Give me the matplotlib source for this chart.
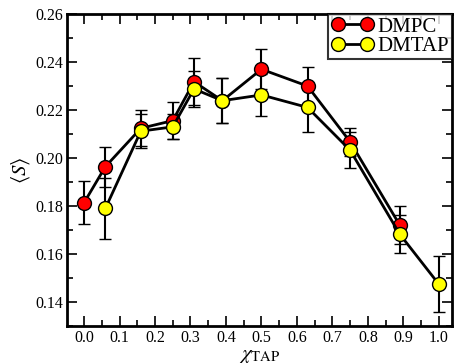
import numpy as np
import matplotlib.pyplot as plt
from matplotlib.lines import Line2D
from matplotlib.ticker import MultipleLocator

# DMPC order parameter vs TAP fraction
x_dmpc = [0.0, 0.06, 0.16, 0.25, 0.31, 0.39, 0.50, 0.63, 0.75, 0.89]
s_dmpc = [0.1814, 0.1964, 0.2124, 0.2156, 0.2318, 0.2239, 0.2370, 0.2300, 0.2068, 0.1721]
err_dmpc = [0.0090, 0.0083, 0.0075, 0.0076, 0.0097, 0.0095, 0.0083, 0.0080, 0.0058, 0.0079]

# DMTAP order parameter vs TAP fraction
x_dmtap = [0.06, 0.16, 0.25, 0.31, 0.39, 0.50, 0.63, 0.75, 0.89, 1.0]
s_dmtap = [0.1790, 0.2112, 0.2130, 0.2288, 0.2239, 0.2263, 0.2211, 0.2033, 0.1683, 0.1475]
err_dmtap = [0.0127, 0.0070, 0.0052, 0.0074, 0.0095, 0.0088, 0.0101, 0.0076, 0.0080, 0.0116]

plt.rcParams["font.family"] = ["Liberation Serif", "DejaVu Serif"]
plt.rcParams["mathtext.fontset"] = "stix"

fig = plt.figure(figsize=(4.56, 3.64), dpi=100)
ax = fig.add_axes([0.147, 0.104, 0.844, 0.8575])

handles = []
for xs, ys, es, color, label in [
    (x_dmpc, s_dmpc, err_dmpc, "#ff0000", "DMPC"),
    (x_dmtap, s_dmtap, err_dmtap, "#ffff00", "DMTAP"),
]:
    style = dict(
        color="black",
        linewidth=2,
        marker="o",
        markersize=10,
        markerfacecolor=color,
        markeredgecolor="black",
        markeredgewidth=1,
    )
    ax.errorbar(xs, ys, yerr=es, elinewidth=1.5, capsize=4, capthick=1.5, **style)
    handles.append(Line2D([], [], label=label, **style))

ax.set_xlim(-0.048, 1.037)
ax.set_ylim(0.13, 0.26)

ax.xaxis.set_major_locator(MultipleLocator(0.1))
ax.xaxis.set_minor_locator(MultipleLocator(0.05))
ax.yaxis.set_major_locator(MultipleLocator(0.02))
ax.yaxis.set_minor_locator(MultipleLocator(0.01))
ax.xaxis.set_major_formatter(plt.FormatStrFormatter("%.1f"))
ax.yaxis.set_major_formatter(plt.FormatStrFormatter("%.2f"))

ax.tick_params(which="both", direction="in", top=True, right=True,
               width=1.2, labelsize=11.5)
ax.tick_params(which="major", length=7, pad=3)
ax.tick_params(which="minor", length=4)
for spine in ax.spines.values():
    spine.set_linewidth(2)

ax.set_xlabel(r"$\chi_{\rm TAP}$", fontsize=15, labelpad=0)
ax.set_ylabel(r"$\langle S \rangle$", fontsize=15, labelpad=2)

leg = ax.legend(
    handles=handles,
    loc="upper right",
    numpoints=2,
    fontsize=15,
    frameon=True,
    fancybox=False,
    borderaxespad=0.0,
    borderpad=0.15,
    handlelength=2.0,
    handletextpad=0.2,
    labelspacing=0.0,
)
leg.get_frame().set_edgecolor("black")
leg.get_frame().set_linewidth(1.5)

fig.savefig("out.png", dpi=100)
